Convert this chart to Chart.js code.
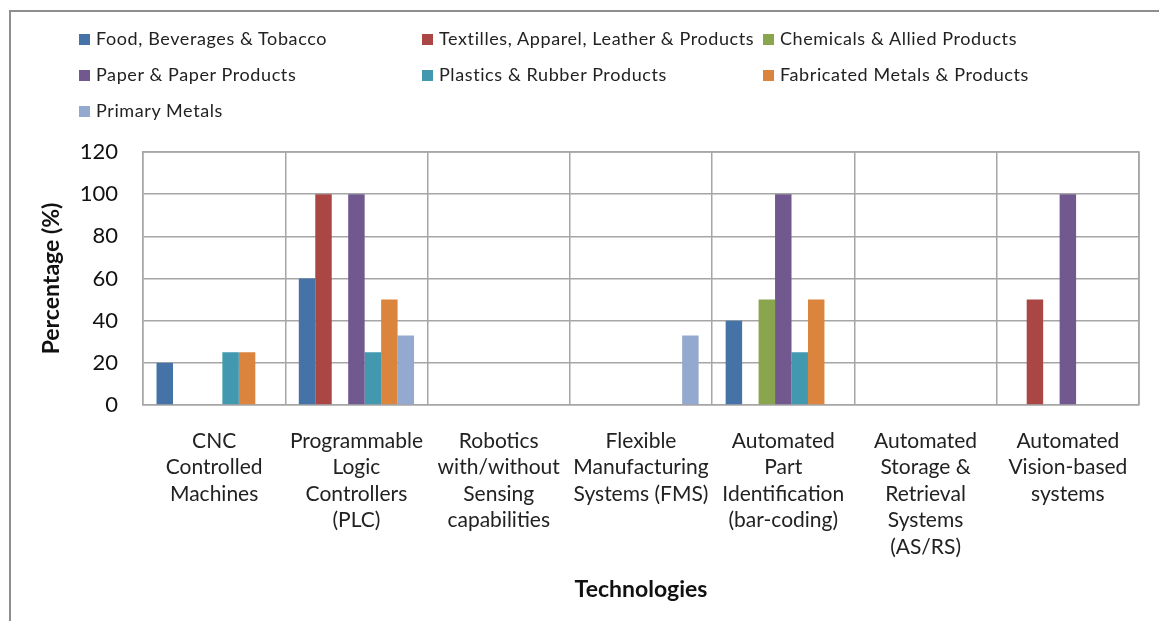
<!DOCTYPE html>
<html>
<head>
<meta charset="utf-8">
<script src="https://cdn.jsdelivr.net/npm/chart.js@4.4.0/dist/chart.umd.min.js"></script>
<style>
  html, body { margin: 0; padding: 0; background: #fff; }
  #wrap { position: relative; width: 1159px; height: 621px; overflow: hidden; }
  #frame { position: absolute; left: 9px; top: 10px; width: 1300px; height: 800px; border: 2px solid #8e8e8e; box-sizing: border-box; }
  #canvas { position: absolute; left: 0; top: 0; }
  .leg { position: absolute; font-family: Lato, sans-serif; font-size: 18px; letter-spacing: 0.6px; color: #222; white-space: nowrap; line-height: 20px; }
  .leg span { display: inline-block; width: 11px; height: 11px; margin-right: 6px; vertical-align: 0px; }
</style>
</head>
<body>
<div id="wrap">
  <div id="frame"></div>
  <canvas id="canvas" width="1159" height="621"></canvas>
  <div id="legend"></div>
</div>
<script>
const categories = [
  ['CNC', 'Controlled', 'Machines'],
  ['Programmable', 'Logic', 'Controllers', '(PLC)'],
  ['Robotics', 'with/without', 'Sensing', 'capabilities'],
  ['Flexible', 'Manufacturing', 'Systems (FMS)'],
  ['Automated', 'Part', 'Identification', '(bar-coding)'],
  ['Automated', 'Storage &', 'Retrieval', 'Systems', '(AS/RS)'],
  ['Automated', 'Vision-based', 'systems']
];

const seriesNames = [
  'Food, Beverages & Tobacco',
  'Textilles, Apparel, Leather & Products',
  'Chemicals & Allied Products',
  'Paper & Paper Products',
  'Plastics & Rubber Products',
  'Fabricated Metals & Products',
  'Primary Metals'
];

const food       = [20, 60, 0, 0, 40, 0, 0];
const textiles   = [0, 100, 0, 0, 0, 0, 50];
const chemicals  = [0, 0, 0, 0, 50, 0, 0];
const paper      = [0, 100, 0, 0, 100, 0, 100];
const plastics   = [25, 25, 0, 0, 25, 0, 0];
const fabricated = [25, 50, 0, 0, 50, 0, 0];
const primary    = [0, 33, 0, 33, 0, 0, 0];

const yTicks = [0, 20, 40, 60, 80, 100, 120];

const colors = ['#4572A7', '#AA4643', '#89A54E', '#71588F', '#4198AF', '#DB843D', '#93A9CF'];
const values = [food, textiles, chemicals, paper, plastics, fabricated, primary];

const datasets = seriesNames.map(function(name, i) {
  return {
    label: name,
    data: values[i],
    backgroundColor: colors[i],
    borderWidth: 0,
    categoryPercentage: 0.81,
    barPercentage: 1
  };
});

// legend laid out in fixed columns, three per row
const legendCols = [79, 422, 763];
const legendRows = [28, 64, 100];
const legendBox = document.getElementById('legend');
seriesNames.forEach(function(name, i) {
  const item = document.createElement('div');
  item.className = 'leg';
  item.style.left = legendCols[i % 3] + 'px';
  item.style.top = legendRows[Math.floor(i / 3)] + 'px';
  item.innerHTML = '<span style="background:' + colors[i] + '"></span>' + name;
  legendBox.appendChild(item);
});

const gridColor = '#a6a6a6';

new Chart(document.getElementById('canvas'), {
  type: 'bar',
  data: { labels: categories, datasets: datasets },
  options: {
    responsive: false,
    animation: false,
    layout: { padding: { top: 152, right: 20, left: 0, bottom: 0 } },
    plugins: { legend: { display: false }, tooltip: { enabled: false } },
    scales: {
      x: {
        grid: { color: gridColor, lineWidth: 1.5, drawTicks: false, offset: true },
        border: { color: gridColor, width: 1.5 },
        ticks: {
          autoSkip: false, maxRotation: 0, padding: 23,
          color: '#222', font: { family: 'Lato', size: 21, lineHeight: 1.26 }
        },
        title: {
          display: true, text: 'Technologies', color: '#111',
          font: { family: 'Lato', size: 23, weight: 'bold' },
          padding: { top: 0, bottom: 18 }
        },
        afterFit: function(scale) { scale.height = 216; }
      },
      y: {
        min: 0, max: 120,
        afterBuildTicks: function(scale) {
          scale.ticks = yTicks.map(function(v) { return { value: v }; });
        },
        grid: { color: gridColor, lineWidth: 1.5, drawTicks: false },
        border: { color: gridColor, width: 1.5 },
        ticks: { padding: 25, color: '#111', font: { family: 'Lato', size: 22 } },
        title: {
          display: true, text: 'Percentage (%)', color: '#111',
          font: { family: 'Lato', size: 23, weight: 'bold' },
          padding: { top: 38, bottom: 0 }
        },
        afterFit: function(scale) { scale.width = 143; }
      }
    }
  },
  plugins: [{
    id: 'rightEdge',
    afterDraw: function(chart) {
      const a = chart.chartArea;
      const c = chart.ctx;
      c.save();
      c.strokeStyle = gridColor;
      c.lineWidth = 1.5;
      c.beginPath();
      c.moveTo(a.left, a.top);
      c.lineTo(a.right, a.top);
      c.lineTo(a.right, a.bottom);
      c.stroke();
      c.restore();
    }
  }]
});
</script>
</body>
</html>
